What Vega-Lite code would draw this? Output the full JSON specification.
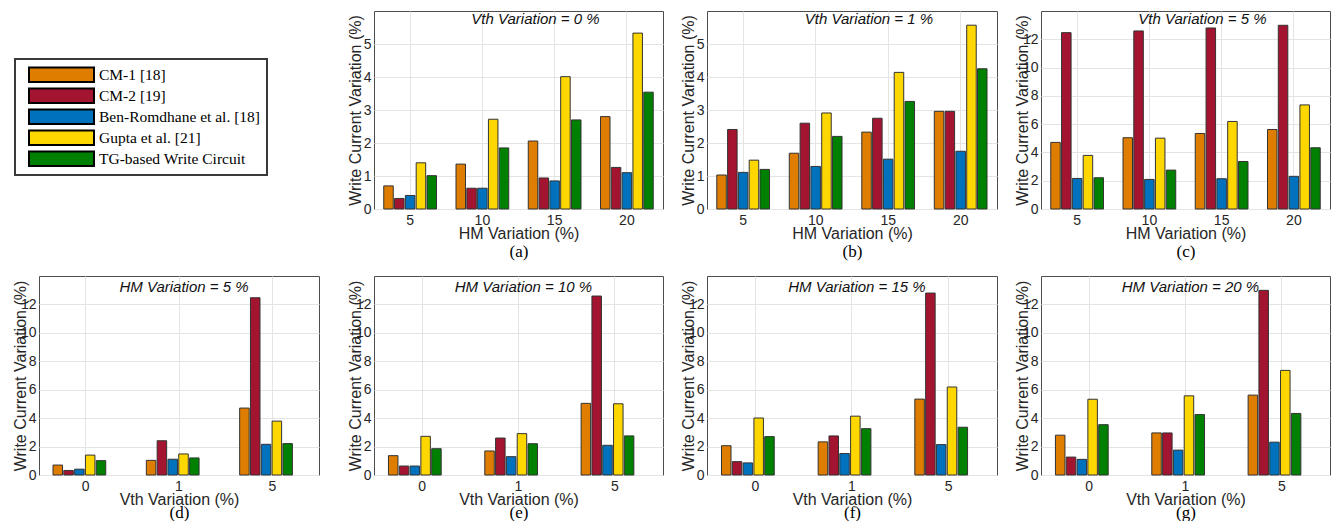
{
  "$schema": "https://vega.github.io/schema/vega-lite/v6.json",
  "padding": {"left": 11, "top": 10, "right": 0, "bottom": 0},
  "data": {"values": [
    {"vth": 0, "hm": 5, "method": "CM-1 [18]", "value": 0.70},
    {"vth": 0, "hm": 5, "method": "CM-2 [19]", "value": 0.32},
    {"vth": 0, "hm": 5, "method": "Ben-Romdhane et al. [18]", "value": 0.41},
    {"vth": 0, "hm": 5, "method": "Gupta et al. [21]", "value": 1.40},
    {"vth": 0, "hm": 5, "method": "TG-based Write Circuit", "value": 1.01},
    {"vth": 0, "hm": 10, "method": "CM-1 [18]", "value": 1.36},
    {"vth": 0, "hm": 10, "method": "CM-2 [19]", "value": 0.63},
    {"vth": 0, "hm": 10, "method": "Ben-Romdhane et al. [18]", "value": 0.63},
    {"vth": 0, "hm": 10, "method": "Gupta et al. [21]", "value": 2.72},
    {"vth": 0, "hm": 10, "method": "TG-based Write Circuit", "value": 1.85},
    {"vth": 0, "hm": 15, "method": "CM-1 [18]", "value": 2.06},
    {"vth": 0, "hm": 15, "method": "CM-2 [19]", "value": 0.94},
    {"vth": 0, "hm": 15, "method": "Ben-Romdhane et al. [18]", "value": 0.85},
    {"vth": 0, "hm": 15, "method": "Gupta et al. [21]", "value": 4.01},
    {"vth": 0, "hm": 15, "method": "TG-based Write Circuit", "value": 2.70},
    {"vth": 0, "hm": 20, "method": "CM-1 [18]", "value": 2.80},
    {"vth": 0, "hm": 20, "method": "CM-2 [19]", "value": 1.26},
    {"vth": 0, "hm": 20, "method": "Ben-Romdhane et al. [18]", "value": 1.10},
    {"vth": 0, "hm": 20, "method": "Gupta et al. [21]", "value": 5.33},
    {"vth": 0, "hm": 20, "method": "TG-based Write Circuit", "value": 3.54},
    {"vth": 1, "hm": 5, "method": "CM-1 [18]", "value": 1.03},
    {"vth": 1, "hm": 5, "method": "CM-2 [19]", "value": 2.41},
    {"vth": 1, "hm": 5, "method": "Ben-Romdhane et al. [18]", "value": 1.11},
    {"vth": 1, "hm": 5, "method": "Gupta et al. [21]", "value": 1.48},
    {"vth": 1, "hm": 5, "method": "TG-based Write Circuit", "value": 1.20},
    {"vth": 1, "hm": 10, "method": "CM-1 [18]", "value": 1.69},
    {"vth": 1, "hm": 10, "method": "CM-2 [19]", "value": 2.60},
    {"vth": 1, "hm": 10, "method": "Ben-Romdhane et al. [18]", "value": 1.29},
    {"vth": 1, "hm": 10, "method": "Gupta et al. [21]", "value": 2.91},
    {"vth": 1, "hm": 10, "method": "TG-based Write Circuit", "value": 2.20},
    {"vth": 1, "hm": 15, "method": "CM-1 [18]", "value": 2.33},
    {"vth": 1, "hm": 15, "method": "CM-2 [19]", "value": 2.75},
    {"vth": 1, "hm": 15, "method": "Ben-Romdhane et al. [18]", "value": 1.51},
    {"vth": 1, "hm": 15, "method": "Gupta et al. [21]", "value": 4.14},
    {"vth": 1, "hm": 15, "method": "TG-based Write Circuit", "value": 3.26},
    {"vth": 1, "hm": 20, "method": "CM-1 [18]", "value": 2.96},
    {"vth": 1, "hm": 20, "method": "CM-2 [19]", "value": 2.96},
    {"vth": 1, "hm": 20, "method": "Ben-Romdhane et al. [18]", "value": 1.75},
    {"vth": 1, "hm": 20, "method": "Gupta et al. [21]", "value": 5.57},
    {"vth": 1, "hm": 20, "method": "TG-based Write Circuit", "value": 4.25},
    {"vth": 5, "hm": 5, "method": "CM-1 [18]", "value": 4.71},
    {"vth": 5, "hm": 5, "method": "CM-2 [19]", "value": 12.47},
    {"vth": 5, "hm": 5, "method": "Ben-Romdhane et al. [18]", "value": 2.16},
    {"vth": 5, "hm": 5, "method": "Gupta et al. [21]", "value": 3.79},
    {"vth": 5, "hm": 5, "method": "TG-based Write Circuit", "value": 2.21},
    {"vth": 5, "hm": 10, "method": "CM-1 [18]", "value": 5.04},
    {"vth": 5, "hm": 10, "method": "CM-2 [19]", "value": 12.59},
    {"vth": 5, "hm": 10, "method": "Ben-Romdhane et al. [18]", "value": 2.09},
    {"vth": 5, "hm": 10, "method": "Gupta et al. [21]", "value": 5.01},
    {"vth": 5, "hm": 10, "method": "TG-based Write Circuit", "value": 2.75},
    {"vth": 5, "hm": 15, "method": "CM-1 [18]", "value": 5.34},
    {"vth": 5, "hm": 15, "method": "CM-2 [19]", "value": 12.80},
    {"vth": 5, "hm": 15, "method": "Ben-Romdhane et al. [18]", "value": 2.14},
    {"vth": 5, "hm": 15, "method": "Gupta et al. [21]", "value": 6.19},
    {"vth": 5, "hm": 15, "method": "TG-based Write Circuit", "value": 3.36},
    {"vth": 5, "hm": 20, "method": "CM-1 [18]", "value": 5.62},
    {"vth": 5, "hm": 20, "method": "CM-2 [19]", "value": 12.99},
    {"vth": 5, "hm": 20, "method": "Ben-Romdhane et al. [18]", "value": 2.31},
    {"vth": 5, "hm": 20, "method": "Gupta et al. [21]", "value": 7.36},
    {"vth": 5, "hm": 20, "method": "TG-based Write Circuit", "value": 4.33}
  ]},
  "columns": 4,
  "spacing": {"row": 15, "column": 15},
  "concat": [
    {"width": 292, "height": 198, "mark": "text", "encoding": {}, "transform": [{"filter": "false"}], "view": {"stroke": null}},
    {"width": 289, "height": 198, "transform": [{"filter": "datum.vth == 0"}],
     "title": {"text": "Vth Variation = 0 %", "offset": -15.5, "dx": 17},
     "layer": [
      {"mark": {"type": "bar", "stroke": "#333333", "strokeWidth": 1},
       "encoding": {
        "x": {"field": "hm", "type": "ordinal", "scale": {"paddingInner": 0.27, "paddingOuter": 0.135}, "axis": {"title": "HM Variation (%)"}},
        "xOffset": {"field": "method", "type": "nominal", "sort": ["CM-1 [18]", "CM-2 [19]", "Ben-Romdhane et al. [18]", "Gupta et al. [21]", "TG-based Write Circuit"], "scale": {"paddingInner": 0.12, "paddingOuter": 0}},
        "y": {"field": "value", "type": "quantitative", "scale": {"domain": [0, 6], "nice": false}, "axis": {"title": "Write Current Variation (%)", "values": [0, 1, 2, 3, 4, 5]}},
        "color": {"field": "method", "type": "nominal", "scale": {"domain": ["CM-1 [18]", "CM-2 [19]", "Ben-Romdhane et al. [18]", "Gupta et al. [21]", "TG-based Write Circuit"], "range": ["#DF7D00", "#A2142F", "#0072BD", "#FFD700", "#008000"]},
          "legend": {"title": null, "labelLimit": 400, "labelExpr": "datum.label == 'Ben-Romdhane et al. [18]' ? datum.label + '\u2003\u2003\u2002\u2009' : datum.label"}}
       }},
      {"mark": {"type": "bar", "opacity": 0},
       "encoding": {"x": {"field": "hm", "type": "ordinal", "axis": {"orient": "bottom", "title": "(a)", "labels": false, "grid": false, "titleFont": "Liberation Serif", "titleFontSize": 17, "titleColor": "#000000", "titlePadding": 34}}}}
     ],
     "resolve": {"axis": {"x": "independent"}}},
    {"width": 290, "height": 198, "transform": [{"filter": "datum.vth == 1"}],
     "title": {"text": "Vth Variation = 1 %", "offset": -15.5, "dx": 17},
     "layer": [
      {"mark": {"type": "bar", "stroke": "#333333", "strokeWidth": 1},
       "encoding": {
        "x": {"field": "hm", "type": "ordinal", "scale": {"paddingInner": 0.27, "paddingOuter": 0.135}, "axis": {"title": "HM Variation (%)"}},
        "xOffset": {"field": "method", "type": "nominal", "sort": ["CM-1 [18]", "CM-2 [19]", "Ben-Romdhane et al. [18]", "Gupta et al. [21]", "TG-based Write Circuit"], "scale": {"paddingInner": 0.12, "paddingOuter": 0}},
        "y": {"field": "value", "type": "quantitative", "scale": {"domain": [0, 6], "nice": false}, "axis": {"title": "Write Current Variation (%)", "values": [0, 1, 2, 3, 4, 5]}},
        "color": {"field": "method", "type": "nominal", "legend": {"title": null, "labelLimit": 400, "labelExpr": "datum.label == 'Ben-Romdhane et al. [18]' ? datum.label + '\u2003\u2003\u2002\u2009' : datum.label"}}
       }},
      {"mark": {"type": "bar", "opacity": 0},
       "encoding": {"x": {"field": "hm", "type": "ordinal", "axis": {"orient": "bottom", "title": "(b)", "labels": false, "grid": false, "titleFont": "Liberation Serif", "titleFontSize": 17, "titleColor": "#000000", "titlePadding": 34}}}}
     ],
     "resolve": {"axis": {"x": "independent"}}},
    {"width": 289, "height": 198, "transform": [{"filter": "datum.vth == 5"}],
     "title": {"text": "Vth Variation = 5 %", "offset": -15.5, "dx": 17},
     "layer": [
      {"mark": {"type": "bar", "stroke": "#333333", "strokeWidth": 1},
       "encoding": {
        "x": {"field": "hm", "type": "ordinal", "scale": {"paddingInner": 0.27, "paddingOuter": 0.135}, "axis": {"title": "HM Variation (%)"}},
        "xOffset": {"field": "method", "type": "nominal", "sort": ["CM-1 [18]", "CM-2 [19]", "Ben-Romdhane et al. [18]", "Gupta et al. [21]", "TG-based Write Circuit"], "scale": {"paddingInner": 0.12, "paddingOuter": 0}},
        "y": {"field": "value", "type": "quantitative", "scale": {"domain": [0, 14], "nice": false}, "axis": {"title": "Write Current Variation (%)", "values": [0, 2, 4, 6, 8, 10, 12]}},
        "color": {"field": "method", "type": "nominal", "legend": {"title": null, "labelLimit": 400, "labelExpr": "datum.label == 'Ben-Romdhane et al. [18]' ? datum.label + '\u2003\u2003\u2002\u2009' : datum.label"}}
       }},
      {"mark": {"type": "bar", "opacity": 0},
       "encoding": {"x": {"field": "hm", "type": "ordinal", "axis": {"orient": "bottom", "title": "(c)", "labels": false, "grid": false, "titleFont": "Liberation Serif", "titleFontSize": 17, "titleColor": "#000000", "titlePadding": 34}}}}
     ],
     "resolve": {"axis": {"x": "independent"}}},
    {"width": 280, "height": 199, "transform": [{"filter": "datum.hm == 5"}],
     "title": {"text": "HM Variation = 5 %", "offset": -19, "dx": 5},
     "layer": [
      {"mark": {"type": "bar", "stroke": "#333333", "strokeWidth": 1},
       "encoding": {
        "x": {"field": "vth", "type": "ordinal", "scale": {"paddingInner": 0.3, "paddingOuter": 0.15}, "axis": {"title": "Vth Variation (%)"}},
        "xOffset": {"field": "method", "type": "nominal", "sort": ["CM-1 [18]", "CM-2 [19]", "Ben-Romdhane et al. [18]", "Gupta et al. [21]", "TG-based Write Circuit"], "scale": {"paddingInner": 0.12, "paddingOuter": 0}},
        "y": {"field": "value", "type": "quantitative", "scale": {"domain": [0, 14], "nice": false}, "axis": {"title": "Write Current Variation (%)", "values": [0, 2, 4, 6, 8, 10, 12]}},
        "color": {"field": "method", "type": "nominal", "legend": {"title": null, "labelLimit": 400, "labelExpr": "datum.label == 'Ben-Romdhane et al. [18]' ? datum.label + '\u2003\u2003\u2002\u2009' : datum.label"}}
       }},
      {"mark": {"type": "bar", "opacity": 0},
       "encoding": {"x": {"field": "vth", "type": "ordinal", "axis": {"orient": "bottom", "title": "(d)", "labels": false, "grid": false, "titleFont": "Liberation Serif", "titleFontSize": 17, "titleColor": "#000000", "titlePadding": 29}}}}
     ],
     "resolve": {"axis": {"x": "independent"}}},
    {"width": 289, "height": 199, "transform": [{"filter": "datum.hm == 10"}],
     "title": {"text": "HM Variation = 10 %", "offset": -19, "dx": 5},
     "layer": [
      {"mark": {"type": "bar", "stroke": "#333333", "strokeWidth": 1},
       "encoding": {
        "x": {"field": "vth", "type": "ordinal", "scale": {"paddingInner": 0.3, "paddingOuter": 0.15}, "axis": {"title": "Vth Variation (%)"}},
        "xOffset": {"field": "method", "type": "nominal", "sort": ["CM-1 [18]", "CM-2 [19]", "Ben-Romdhane et al. [18]", "Gupta et al. [21]", "TG-based Write Circuit"], "scale": {"paddingInner": 0.12, "paddingOuter": 0}},
        "y": {"field": "value", "type": "quantitative", "scale": {"domain": [0, 14], "nice": false}, "axis": {"title": "Write Current Variation (%)", "values": [0, 2, 4, 6, 8, 10, 12]}},
        "color": {"field": "method", "type": "nominal", "legend": {"title": null, "labelLimit": 400, "labelExpr": "datum.label == 'Ben-Romdhane et al. [18]' ? datum.label + '\u2003\u2003\u2002\u2009' : datum.label"}}
       }},
      {"mark": {"type": "bar", "opacity": 0},
       "encoding": {"x": {"field": "vth", "type": "ordinal", "axis": {"orient": "bottom", "title": "(e)", "labels": false, "grid": false, "titleFont": "Liberation Serif", "titleFontSize": 17, "titleColor": "#000000", "titlePadding": 29}}}}
     ],
     "resolve": {"axis": {"x": "independent"}}},
    {"width": 290, "height": 199, "transform": [{"filter": "datum.hm == 15"}],
     "title": {"text": "HM Variation = 15 %", "offset": -19, "dx": 5},
     "layer": [
      {"mark": {"type": "bar", "stroke": "#333333", "strokeWidth": 1},
       "encoding": {
        "x": {"field": "vth", "type": "ordinal", "scale": {"paddingInner": 0.3, "paddingOuter": 0.15}, "axis": {"title": "Vth Variation (%)"}},
        "xOffset": {"field": "method", "type": "nominal", "sort": ["CM-1 [18]", "CM-2 [19]", "Ben-Romdhane et al. [18]", "Gupta et al. [21]", "TG-based Write Circuit"], "scale": {"paddingInner": 0.12, "paddingOuter": 0}},
        "y": {"field": "value", "type": "quantitative", "scale": {"domain": [0, 14], "nice": false}, "axis": {"title": "Write Current Variation (%)", "values": [0, 2, 4, 6, 8, 10, 12]}},
        "color": {"field": "method", "type": "nominal", "legend": {"title": null, "labelLimit": 400, "labelExpr": "datum.label == 'Ben-Romdhane et al. [18]' ? datum.label + '\u2003\u2003\u2002\u2009' : datum.label"}}
       }},
      {"mark": {"type": "bar", "opacity": 0},
       "encoding": {"x": {"field": "vth", "type": "ordinal", "axis": {"orient": "bottom", "title": "(f)", "labels": false, "grid": false, "titleFont": "Liberation Serif", "titleFontSize": 17, "titleColor": "#000000", "titlePadding": 29}}}}
     ],
     "resolve": {"axis": {"x": "independent"}}},
    {"width": 289, "height": 199, "transform": [{"filter": "datum.hm == 20"}],
     "title": {"text": "HM Variation = 20 %", "offset": -19, "dx": 5},
     "layer": [
      {"mark": {"type": "bar", "stroke": "#333333", "strokeWidth": 1},
       "encoding": {
        "x": {"field": "vth", "type": "ordinal", "scale": {"paddingInner": 0.3, "paddingOuter": 0.15}, "axis": {"title": "Vth Variation (%)"}},
        "xOffset": {"field": "method", "type": "nominal", "sort": ["CM-1 [18]", "CM-2 [19]", "Ben-Romdhane et al. [18]", "Gupta et al. [21]", "TG-based Write Circuit"], "scale": {"paddingInner": 0.12, "paddingOuter": 0}},
        "y": {"field": "value", "type": "quantitative", "scale": {"domain": [0, 14], "nice": false}, "axis": {"title": "Write Current Variation (%)", "values": [0, 2, 4, 6, 8, 10, 12]}},
        "color": {"field": "method", "type": "nominal", "legend": {"title": null, "labelLimit": 400, "labelExpr": "datum.label == 'Ben-Romdhane et al. [18]' ? datum.label + '\u2003\u2003\u2002\u2009' : datum.label"}}
       }},
      {"mark": {"type": "bar", "opacity": 0},
       "encoding": {"x": {"field": "vth", "type": "ordinal", "axis": {"orient": "bottom", "title": "(g)", "labels": false, "grid": false, "titleFont": "Liberation Serif", "titleFontSize": 17, "titleColor": "#000000", "titlePadding": 29}}}}
     ],
     "resolve": {"axis": {"x": "independent"}}}
  ],
  "config": {
    "font": "Liberation Sans",
    "view": {"stroke": "#4d4d4d", "strokeWidth": 1},
    "axis": {"labelFont": "Liberation Sans", "labelFontSize": 14, "labelColor": "#262626", "titleFont": "Liberation Sans", "titleFontSize": 16, "titleFontWeight": "normal", "titleColor": "#262626", "gridColor": "#e4e4e4", "domain": false, "ticks": false},
    "axisX": {"labelAngle": 0, "labelPadding": 4, "titlePadding": -2, "bandPosition": 0.5, "grid": true},
    "axisY": {"labelPadding": 3, "titlePadding": 2, "minExtent": 9, "maxExtent": 9},
    "title": {"font": "Liberation Sans", "fontSize": 15, "fontStyle": "italic", "fontWeight": "normal", "color": "#111111", "orient": "top", "frame": "group", "anchor": "middle", "baseline": "bottom"},
    "legend": {"orient": "none", "legendX": -24, "legendY": 48, "symbolType": "M-1,-0.22H1V0.22H-1Z", "symbolSize": 4225, "symbolStrokeColor": "#000000", "symbolStrokeWidth": 2, "symbolOpacity": 1, "labelFont": "Liberation Serif", "labelFontSize": 15.5, "labelColor": "#000000", "labelLimit": 400, "labelOffset": 4, "strokeColor": "#3a3a3a", "strokeWidth": 2, "padding": 7, "rowPadding": 3, "clipHeight": 17.5, "symbolOffset": 6}
  }
}
